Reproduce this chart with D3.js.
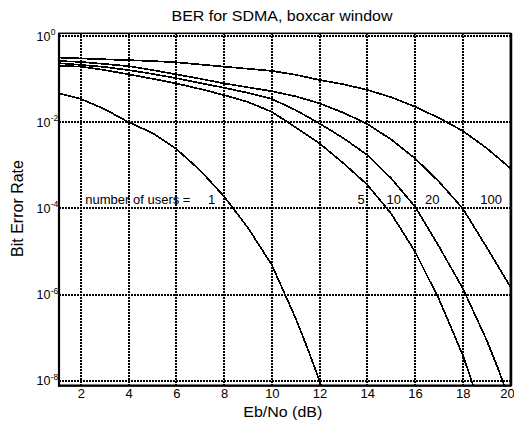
<!DOCTYPE html>
<html>
<head>
<meta charset="utf-8">
<script src="https://cdn.jsdelivr.net/npm/d3@7"></script>
<style>
  html, body { margin: 0; padding: 0; background: #fff; }
  text { font-family: "Liberation Sans", Arial, sans-serif; fill: #000; }
</style>
</head>
<body>
<svg id="chart" width="514" height="428"></svg>
<script>
// ---------- data ----------
const xTicks = [2, 4, 6, 8, 10, 12, 14, 16, 18, 20];
const yTicks = [1, 1e-2, 1e-4, 1e-6, 1e-8];
const yTickExp = ["0", "-2", "-4", "-6", "-8"];

const ebno1 = [1.08, 2, 3, 4, 5, 6, 7, 8, 9, 10, 11, 11.5, 12, 12.1];
const ber1  = [0.0468, 0.0347, 0.0200, 0.0100, 0.00562, 0.00240, 7.6e-4, 1.9e-4, 3.55e-5, 4.9e-6, 2.8e-7, 5.6e-8, 1.0e-8, 6.5e-9];

const ebno5 = [1.08, 2, 3, 4, 5, 6, 7, 8, 9, 10, 11, 12, 13, 14, 15, 16, 17, 18, 18.5];
const ber5  = [0.204, 0.195, 0.162, 0.129, 0.102, 0.0794, 0.0589, 0.0427, 0.0295, 0.0174, 0.00759, 0.00324, 0.00112, 3.55e-4, 7.6e-5, 1.0e-5, 7.9e-7, 4.0e-8, 6.3e-9];

const ebno10 = [1.08, 2, 3, 4, 5, 6, 7, 8, 9, 10, 11, 12, 13, 14, 15, 16, 17, 18, 19, 19.5, 19.8];
const ber10  = [0.234, 0.214, 0.191, 0.162, 0.132, 0.105, 0.0813, 0.0631, 0.0479, 0.0347, 0.0191, 0.00933, 0.00427, 0.00174, 5.0e-4, 1.1e-4, 1.32e-5, 1.41e-6, 8.9e-8, 1.8e-8, 6.3e-9];

const ebno20 = [1.08, 2, 3, 4, 5, 6, 7, 8, 9, 10, 11, 12, 13, 14, 15, 16, 17, 18, 19, 20];
const ber20  = [0.263, 0.251, 0.224, 0.200, 0.162, 0.129, 0.102, 0.0794, 0.0646, 0.0525, 0.0398, 0.0275, 0.0166, 0.00912, 0.00398, 0.00145, 4.2e-4, 1.0e-4, 1.26e-5, 1.51e-6];

const ebno100 = [1.08, 2, 3, 4, 5, 6, 7, 8, 9, 10, 11, 12, 13, 14, 15, 16, 17, 18, 19, 20];
const ber100  = [0.316, 0.302, 0.288, 0.275, 0.263, 0.245, 0.219, 0.195, 0.174, 0.155, 0.126, 0.0955, 0.0759, 0.0562, 0.038, 0.0229, 0.0126, 0.0063, 0.00251, 8.5e-4];

const userLabels = ["5", "10", "20", "100"];

// ---------- layout ----------
const svg = d3.select("#chart");
const L = 59, R = 510.5, T = 33.3, B = 385.7;

const x = d3.scaleLinear().domain([1.08, 20]).range([L, R]);
const y = d3.scaleLog().domain([Math.pow(10, 0.063), Math.pow(10, -8.11)]).range([T, B]);

svg.append("rect").attr("width", 514).attr("height", 428).attr("fill", "#fff");

svg.append("defs").append("clipPath").attr("id", "plotclip")
  .append("rect").attr("x", L).attr("y", T).attr("width", R - L).attr("height", B - T);

// grid
const grid = svg.append("g").attr("stroke", "#000").attr("stroke-width", 2)
  .attr("stroke-dasharray", "2,1").attr("shape-rendering", "crispEdges");
grid.selectAll("line.v").data(xTicks).join("line").attr("class", "v")
  .attr("x1", d => x(d)).attr("x2", d => x(d)).attr("y1", T).attr("y2", B);
grid.selectAll("line.h").data(yTicks).join("line").attr("class", "h")
  .attr("x1", L).attr("x2", R).attr("y1", d => y(d)).attr("y2", d => y(d));

// x axis (labels only)
const xAxis = svg.append("g").attr("transform", `translate(0,${B})`)
  .call(d3.axisBottom(x).tickValues(xTicks).tickSize(0).tickPadding(0).tickFormat(d3.format("d")));
xAxis.select(".domain").remove();
xAxis.selectAll("text").attr("font-size", 13).attr("font-family", "Liberation Sans, Arial, sans-serif")
  .attr("dy", null).attr("y", 12.3).attr("fill", "#000")
  .attr("dx", d => d === 20 ? -3.5 : 0);

// y axis (labels with superscripts)
const yAxis = svg.append("g").attr("transform", `translate(${L},0)`)
  .call(d3.axisLeft(y).tickValues(yTicks).tickSize(0).tickFormat(""));
yAxis.select(".domain").remove();
yAxis.selectAll(".tick").each(function (d, i) {
  const g = d3.select(this);
  g.append("text").attr("x", -8.5).attr("y", 4).attr("text-anchor", "end")
    .attr("font-size", 12.5).attr("fill", "#000").text("10");
  g.append("text").attr("x", -8.3).attr("y", -1.5).attr("text-anchor", "start")
    .attr("font-size", 8.5).attr("fill", "#000").text(yTickExp[i]);
});

// curves
const line = d3.line().x(d => x(d[0])).y(d => y(d[1]));
const series = [[ebno1, ber1], [ebno5, ber5], [ebno10, ber10], [ebno20, ber20], [ebno100, ber100]];
svg.append("g").attr("clip-path", "url(#plotclip)")
  .selectAll("path").data(series).join("path")
  .attr("d", s => line(d3.zip(s[0], s[1])))
  .attr("fill", "none").attr("stroke", "#000").attr("stroke-width", 1.7)
  .attr("shape-rendering", "crispEdges");

// frame
svg.append("rect").attr("x", L).attr("y", T).attr("width", R - L).attr("height", B - T)
  .attr("fill", "none").attr("stroke", "#000").attr("stroke-width", 1.5);
svg.append("line").attr("x1", L).attr("x2", L).attr("y1", T).attr("y2", B + 1)
  .attr("stroke", "#000").attr("stroke-width", 2.2);
svg.append("line").attr("x1", L - 1).attr("x2", R + 1).attr("y1", B).attr("y2", B)
  .attr("stroke", "#000").attr("stroke-width", 2.2);
svg.append("line").attr("x1", R + 0.5).attr("x2", R + 0.5).attr("y1", T).attr("y2", B)
  .attr("stroke", "#000").attr("stroke-width", 2.5);

// annotations
const ann = svg.append("g").attr("font-size", 13);
ann.append("text").attr("x", 85.3).attr("y", 204).text("number of users =");
ann.append("text").attr("x", 208).attr("y", 204).text("1");
const labX = [357.5, 386.5, 425, 480.3];
ann.selectAll("text.u").data(userLabels).join("text").attr("class", "u")
  .attr("x", (d, i) => labX[i]).attr("y", 204).text(d => d);

// titles
svg.append("text").attr("x", 282).attr("y", 21).attr("text-anchor", "middle")
  .attr("font-size", 14.5).attr("textLength", 221).attr("lengthAdjust", "spacingAndGlyphs")
  .text("BER for SDMA, boxcar window");
svg.append("text").attr("x", 282.8).attr("y", 417).attr("text-anchor", "middle")
  .attr("font-size", 14.5).attr("textLength", 79).attr("lengthAdjust", "spacingAndGlyphs")
  .text("Eb/No (dB)");
svg.append("text").attr("transform", "translate(23.3,208.5) rotate(-90)")
  .attr("text-anchor", "middle").attr("font-size", 16)
  .text("Bit Error Rate");
</script>
</body>
</html>
